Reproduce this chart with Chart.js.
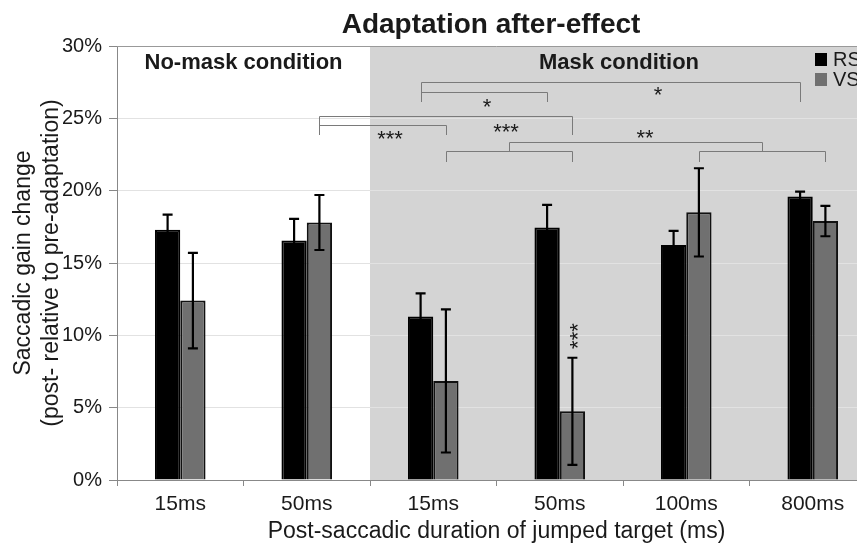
<!DOCTYPE html>
<html>
<head>
<meta charset="utf-8">
<title>Adaptation after-effect</title>
<script src="https://cdn.jsdelivr.net/npm/chart.js@4"></script>
<style>
  html, body { margin: 0; padding: 0; background: #fff; overflow: hidden; }
  #chart { display: block; }
</style>
</head>
<body>
<canvas id="chart" width="982" height="543"></canvas>
<script>
// Values (percent gain change)
const durations = ['15ms', '50ms', '15ms', '50ms', '100ms', '800ms'];
const rsGain = [17.3, 16.55, 11.3, 17.45, 16.25, 19.6];
const rsErr = [1.05, 1.5, 1.6, 1.57, 0.97, 0.33];
const vsGain = [12.4, 17.8, 6.85, 4.75, 18.5, 17.9];
const vsErr = [3.3, 1.9, 4.95, 3.7, 3.05, 1.05];
const yTicks = [0, 5, 10, 15, 20, 25, 30];
const conditions = ['No-mask condition', 'Mask condition'];
const maskStart = 2; // first category shown on the grey (mask) background

// Significance brackets: ends are [series, category] bars (averaged), heights in %
const brackets = [
  { from: [[0, 2]], to: [[0, 5]], level: 27.53, foot: 26.14 },
  { from: [[0, 2]], to: [[0, 3]], level: 26.84, foot: 26.14 },
  { from: [[1, 1]], to: [[1, 3]], level: 25.17, foot: 23.84 },
  { from: [[1, 1]], to: [[1, 2]], level: 24.53, foot: 23.84 },
  { from: [[1, 2]], to: [[1, 3]], level: 22.74, foot: 21.96 },
  { from: [[1, 4]], to: [[1, 5]], level: 22.74, foot: 21.96 },
  { from: [[1, 2], [1, 3]], to: [[1, 4], [1, 5]], level: 23.38, foot: 22.74 }
];
// Star labels: position in category units / % (or pinned to a bar)
const stars = [
  { text: '*', at: 2.425, level: 26.19 },
  { text: '*', at: 3.777, level: 27.02 },
  { text: '***', at: 1.658, level: 23.98 },
  { text: '***', at: 2.575, level: 24.46 },
  { text: '**', at: 3.674, level: 24.07 },
  { text: '***', bar: [1, 3], level: 9.95, vertical: true }
];

const FONT = "'Liberation Sans', Arial, sans-serif";
const INK = '#1a1a1a';

function barX(chart, ref) {
  return chart.getDatasetMeta(ref[0]).data[ref[1]].x;
}
function meanX(chart, refs) {
  return refs.reduce((s, r) => s + barX(chart, r), 0) / refs.length;
}

// background panel, error bars, brackets and labels
const overlay = {
  id: 'overlay',
  beforeDraw(chart) {
    const { ctx, chartArea: a, scales: { x } } = chart;
    const split = (x.getPixelForValue(maskStart - 1) + x.getPixelForValue(maskStart)) / 2;
    ctx.save();
    ctx.fillStyle = '#d4d4d4';
    ctx.fillRect(split, a.top, a.right - split, a.bottom - a.top);
    ctx.restore();
  },
  afterDatasetsDraw(chart) {
    const { ctx, chartArea: a, scales: { x, y } } = chart;
    ctx.save();

    // error bars
    ctx.strokeStyle = '#000';
    ctx.lineWidth = 2.2;
    chart.data.datasets.forEach((ds, di) => {
      chart.getDatasetMeta(di).data.forEach((bar, i) => {
        const top = y.getPixelForValue(ds.data[i] + ds.errors[i]);
        const bot = y.getPixelForValue(ds.data[i] - ds.errors[i]);
        ctx.beginPath();
        ctx.moveTo(bar.x, top); ctx.lineTo(bar.x, bot);
        ctx.moveTo(bar.x - 5, top); ctx.lineTo(bar.x + 5, top);
        ctx.moveTo(bar.x - 5, bot); ctx.lineTo(bar.x + 5, bot);
        ctx.stroke();
      });
    });

    // top frame line
    ctx.strokeStyle = '#999';
    ctx.lineWidth = 1;
    ctx.beginPath();
    ctx.moveTo(a.left, Math.round(a.top) + 0.5);
    ctx.lineTo(a.right, Math.round(a.top) + 0.5);
    ctx.stroke();

    // significance brackets
    ctx.strokeStyle = '#7a7a7a';
    brackets.forEach(b => {
      const x1 = Math.round(meanX(chart, b.from)) + 0.5;
      const x2 = Math.round(meanX(chart, b.to)) + 0.5;
      const yl = Math.round(y.getPixelForValue(b.level)) + 0.5;
      const yf = Math.round(y.getPixelForValue(b.foot));
      ctx.beginPath();
      ctx.moveTo(x1, yf); ctx.lineTo(x1, yl); ctx.lineTo(x2, yl); ctx.lineTo(x2, yf);
      ctx.stroke();
    });

    // stars
    const size = 22;
    ctx.fillStyle = INK;
    ctx.font = size + 'px ' + FONT;
    ctx.textAlign = 'center';
    ctx.textBaseline = 'alphabetic';
    stars.forEach(s => {
      const px = s.bar ? barX(chart, s.bar) : x.getPixelForValue(s.at);
      const py = y.getPixelForValue(s.level);
      if (s.vertical) {
        ctx.save();
        ctx.translate(px, py);
        ctx.rotate(-Math.PI / 2);
        ctx.fillText(s.text, 0, size * 0.58);
        ctx.restore();
      } else {
        ctx.fillText(s.text, px, py + size * 0.58);
      }
    });

    // condition headers
    const split = (x.getPixelForValue(maskStart - 1) + x.getPixelForValue(maskStart)) / 2;
    ctx.font = 'bold 22px ' + FONT;
    ctx.textBaseline = 'middle';
    ctx.fillText(conditions[0], (a.left + split) / 2, a.top + 17);
    ctx.fillText(conditions[1], (split + a.right) / 2 - 4, a.top + 17);

    // legend inside the plot, top right
    ctx.font = '20px ' + FONT;
    ctx.textAlign = 'left';
    chart.data.datasets.forEach((ds, di) => {
      const top = a.top + 7 + di * 20;
      ctx.fillStyle = ds.backgroundColor;
      ctx.fillRect(a.right - 61, top, 12, 13);
      ctx.fillStyle = INK;
      ctx.fillText(ds.label, a.right - 43, top + 7);
    });

    // main title
    ctx.font = 'bold 28px ' + FONT;
    ctx.textAlign = 'center';
    ctx.textBaseline = 'alphabetic';
    ctx.fillText('Adaptation after-effect', chart.width / 2, 33);

    ctx.restore();
  }
};

const ctx = document.getElementById('chart').getContext('2d');
new Chart(ctx, {
  type: 'bar',
  data: {
    labels: durations,
    datasets: [
      { label: 'RS', data: rsGain, errors: rsErr, backgroundColor: '#000', borderColor: '#000', borderWidth: 2 },
      { label: 'VS', data: vsGain, errors: vsErr, backgroundColor: '#707070', borderColor: '#111', borderWidth: 2 }
    ]
  },
  options: {
    responsive: false,
    animation: false,
    devicePixelRatio: 1,
    datasets: { bar: { categoryPercentage: 0.4, barPercentage: 1 } },
    layout: { padding: { top: 46, right: 106, left: 0, bottom: 0 } },
    plugins: {
      legend: { display: false },
      title: { display: false },
      tooltip: { enabled: false }
    },
    scales: {
      x: {
        grid: { drawOnChartArea: false, tickLength: 6, color: '#888', offset: true },
        border: { color: '#888' },
        ticks: { font: { family: FONT, size: 21 }, color: INK, padding: 6 },
        title: {
          display: true,
          text: 'Post-saccadic duration of jumped target (ms)',
          font: { family: FONT, size: 23, lineHeight: 1 },
          color: INK,
          padding: 0
        },
        afterFit: s => { s.height = 63; }
      },
      y: {
        min: 0,
        max: 30,
        afterBuildTicks: s => { s.ticks = yTicks.map(v => ({ value: v })); },
        ticks: { callback: v => v + '%', font: { family: FONT, size: 20 }, color: INK, padding: 7 },
        grid: { color: '#e2e2e2', tickColor: '#888', tickLength: 8 },
        border: { color: '#888' },
        title: {
          display: true,
          text: ['Saccadic gain change', '(post- relative to pre-adaptation)'],
          font: { family: FONT, size: 23, lineHeight: 1.2 },
          color: INK,
          padding: { top: 10, bottom: 0 }
        },
        afterFit: s => { s.width = 117; }
      }
    }
  },
  plugins: [overlay]
});
</script>
</body>
</html>
